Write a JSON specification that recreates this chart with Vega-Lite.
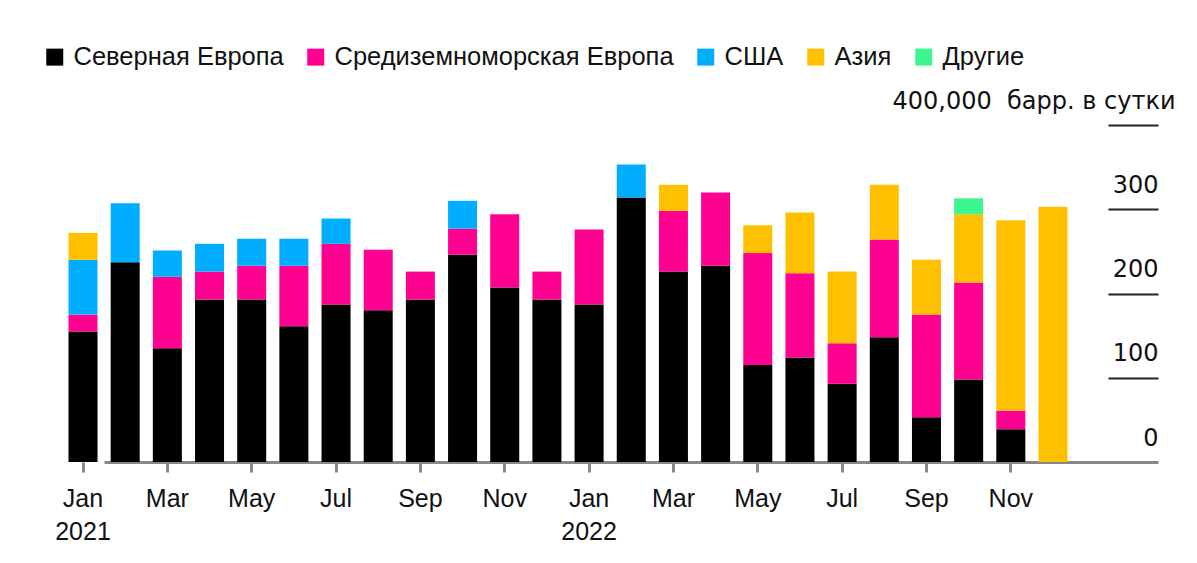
{
  "$schema": "https://vega.github.io/schema/vega-lite/v6.json",
  "width": 1117,
  "height": 337,
  "autosize": {"type": "none"},
  "padding": {"left": 41, "top": 125, "right": 39, "bottom": 101},
  "background": "#ffffff",
  "config": {"view": {"stroke": null}},
  "data": {
    "values": [
      {"month": "2021-01", "region": "Северная Европа", "value": 155},
      {"month": "2021-01", "region": "Средиземноморская Европа", "value": 20},
      {"month": "2021-01", "region": "США", "value": 65},
      {"month": "2021-01", "region": "Азия", "value": 32},
      {"month": "2021-02", "region": "Северная Европа", "value": 237},
      {"month": "2021-02", "region": "США", "value": 70},
      {"month": "2021-03", "region": "Северная Европа", "value": 135},
      {"month": "2021-03", "region": "Средиземноморская Европа", "value": 85},
      {"month": "2021-03", "region": "США", "value": 31},
      {"month": "2021-04", "region": "Северная Европа", "value": 193},
      {"month": "2021-04", "region": "Средиземноморская Европа", "value": 33},
      {"month": "2021-04", "region": "США", "value": 33},
      {"month": "2021-05", "region": "Северная Европа", "value": 193},
      {"month": "2021-05", "region": "Средиземноморская Европа", "value": 40},
      {"month": "2021-05", "region": "США", "value": 32},
      {"month": "2021-06", "region": "Северная Европа", "value": 161},
      {"month": "2021-06", "region": "Средиземноморская Европа", "value": 72},
      {"month": "2021-06", "region": "США", "value": 32},
      {"month": "2021-07", "region": "Северная Европа", "value": 187},
      {"month": "2021-07", "region": "Средиземноморская Европа", "value": 72},
      {"month": "2021-07", "region": "США", "value": 30},
      {"month": "2021-08", "region": "Северная Европа", "value": 180},
      {"month": "2021-08", "region": "Средиземноморская Европа", "value": 72},
      {"month": "2021-09", "region": "Северная Европа", "value": 193},
      {"month": "2021-09", "region": "Средиземноморская Европа", "value": 33},
      {"month": "2021-10", "region": "Северная Европа", "value": 246},
      {"month": "2021-10", "region": "Средиземноморская Европа", "value": 31},
      {"month": "2021-10", "region": "США", "value": 33},
      {"month": "2021-11", "region": "Северная Европа", "value": 207},
      {"month": "2021-11", "region": "Средиземноморская Европа", "value": 87},
      {"month": "2021-12", "region": "Северная Европа", "value": 193},
      {"month": "2021-12", "region": "Средиземноморская Европа", "value": 33},
      {"month": "2022-01", "region": "Северная Европа", "value": 187},
      {"month": "2022-01", "region": "Средиземноморская Европа", "value": 89},
      {"month": "2022-02", "region": "Северная Европа", "value": 314},
      {"month": "2022-02", "region": "США", "value": 39},
      {"month": "2022-03", "region": "Северная Европа", "value": 226},
      {"month": "2022-03", "region": "Средиземноморская Европа", "value": 72},
      {"month": "2022-03", "region": "Азия", "value": 31},
      {"month": "2022-04", "region": "Северная Европа", "value": 233},
      {"month": "2022-04", "region": "Средиземноморская Европа", "value": 87},
      {"month": "2022-05", "region": "Северная Европа", "value": 115},
      {"month": "2022-05", "region": "Средиземноморская Европа", "value": 133},
      {"month": "2022-05", "region": "Азия", "value": 33},
      {"month": "2022-06", "region": "Северная Европа", "value": 124},
      {"month": "2022-06", "region": "Средиземноморская Европа", "value": 100},
      {"month": "2022-06", "region": "Азия", "value": 72},
      {"month": "2022-07", "region": "Северная Европа", "value": 93},
      {"month": "2022-07", "region": "Средиземноморская Европа", "value": 48},
      {"month": "2022-07", "region": "Азия", "value": 85},
      {"month": "2022-08", "region": "Северная Европа", "value": 148},
      {"month": "2022-08", "region": "Средиземноморская Европа", "value": 116},
      {"month": "2022-08", "region": "Азия", "value": 65},
      {"month": "2022-09", "region": "Северная Европа", "value": 53},
      {"month": "2022-09", "region": "Средиземноморская Европа", "value": 122},
      {"month": "2022-09", "region": "Азия", "value": 65},
      {"month": "2022-10", "region": "Северная Европа", "value": 98},
      {"month": "2022-10", "region": "Средиземноморская Европа", "value": 115},
      {"month": "2022-10", "region": "Азия", "value": 81},
      {"month": "2022-10", "region": "Другие", "value": 19},
      {"month": "2022-11", "region": "Северная Европа", "value": 39},
      {"month": "2022-11", "region": "Средиземноморская Европа", "value": 22},
      {"month": "2022-11", "region": "Азия", "value": 226},
      {"month": "2022-12", "region": "Азия", "value": 303}
    ]
  },
  "transform": [
    {"calculate": "indexof(['Северная Европа','Средиземноморская Европа','США','Азия','Другие'], datum.region)", "as": "stackOrder"}
  ],
  "mark": {"type": "bar"},
  "encoding": {
    "x": {
      "field": "month",
      "type": "ordinal",
      "sort": null,
      "scale": {"range": [0, 1054], "paddingInner": 0.312, "paddingOuter": 0.652},
      "axis": {
        "title": null,
        "domain": false,
        "ticks": true,
        "tickColor": "#888888",
        "tickWidth": 3,
        "tickSize": 10,
        "values": ["2021-01","2021-03","2021-05","2021-07","2021-09","2021-11","2022-01","2022-03","2022-05","2022-07","2022-09","2022-11"],
        "labelExpr": "substring(datum.value, 5, 7) == '01' ? [utcFormat(toDate(datum.value + '-15T12:00:00Z'), '%b'), substring(datum.value, 0, 4)] : utcFormat(toDate(datum.value + '-15T12:00:00Z'), '%b')",
        "labelAngle": 0,
        "labelFont": "Liberation Sans",
        "labelFontSize": 25,
        "labelColor": "#111111",
        "labelPadding": 14,
        "labelLineHeight": 33,
        "labelOverlap": false
      }
    },
    "y": {
      "field": "value",
      "type": "quantitative",
      "stack": "zero",
      "scale": {"domain": [0, 400], "nice": false},
      "axis": {
        "title": null,
        "orient": "right",
        "domain": false,
        "values": [0, 100, 200, 300, 400],
        "grid": true,
        "gridColor": "#888888",
        "gridWidth": 3,
        "gridOpacity": {"condition": {"test": "datum.value == 0", "value": 1}, "value": 0},
        "ticks": true,
        "tickSize": -50,
        "tickColor": "#222222",
        "tickWidth": 2,
        "tickOpacity": {"condition": {"test": "datum.value == 0", "value": 0}, "value": 1},
        "labelExpr": "datum.value == 400 ? '400,000\u00a0 барр. в сутки' : datum.label",
        "labelAlign": "right",
        "labelBaseline": "alphabetic",
        "labelOffset": -17,
        "labelPadding": {"condition": {"test": "datum.value == 400", "value": 67}, "value": 50},
        "labelLimit": 0,
        "labelFlush": false,
        "labelOverlap": false,
        "labelBound": false,
        "labelFont": "DejaVu Sans",
        "labelFontSize": 24,
        "labelColor": "#111111"
      }
    },
    "color": {
      "field": "region",
      "type": "nominal",
      "scale": {
        "domain": ["Северная Европа", "Средиземноморская Европа", "США", "Азия", "Другие"],
        "range": ["#000000", "#ff0091", "#00adff", "#ffc000", "#3df590"]
      },
      "legend": {
        "title": null,
        "orient": "none",
        "direction": "horizontal",
        "legendX": 1,
        "legendY": -81,
        "symbolType": "square",
        "symbolSize": 289,
        "symbolStrokeWidth": 0,
        "symbolOpacity": 1,
        "labelFont": "Liberation Sans",
        "labelFontSize": 25.5,
        "labelColor": "#111111",
        "labelOffset": 6,
        "labelLimit": 0,
        "columnPadding": 19
      }
    },
    "order": {"field": "stackOrder", "type": "quantitative"}
  }
}
